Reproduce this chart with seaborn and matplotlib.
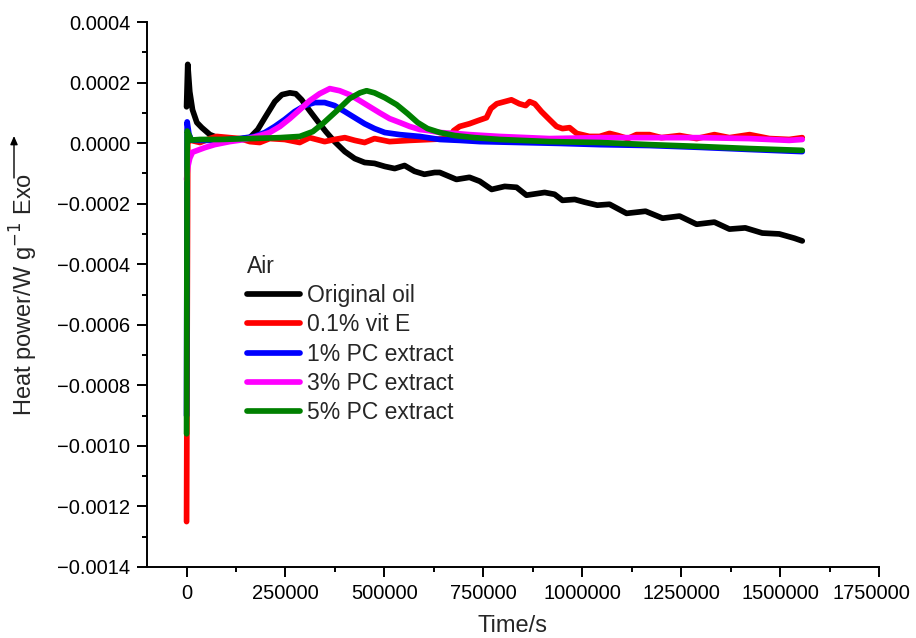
import numpy as np
import pandas as pd
import matplotlib
matplotlib.use("Agg")
import matplotlib.pyplot as plt
from matplotlib.ticker import MultipleLocator, FuncFormatter
from matplotlib.lines import Line2D
from matplotlib.transforms import ScaledTranslation
import seaborn as sns

# ---------------- data ----------------
series_names = ["Original oil", "0.1% vit E", "1% PC extract", "3% PC extract", "5% PC extract"]
series_colors = ["#000000", "#ff0000", "#0000ff", "#ff00ff", "#008000"]

orig_t = [0, 3000, 8000, 15000, 26000, 38600, 59000, 84000, 122000, 160000, 180000, 198000,
          223000, 241000, 261000, 276000, 291000, 311000, 332000, 352000, 374000, 400000,
          425000, 450000, 475000, 501000, 526000, 551000, 576000, 601000, 627000, 640000,
          682000, 715000, 741000, 771000, 804000, 834000, 859000, 905000, 930000, 950000,
          981000, 1006000, 1038000, 1069000, 1112000, 1160000, 1203000, 1246000, 1289000,
          1334000, 1372000, 1412000, 1455000, 1498000, 1536000, 1556000]
orig_v = [0.00012, 0.00026, 0.00017, 0.00011, 0.000068, 0.000051, 0.000028, 0.000015, 0.000012,
          0.000018, 0.000045, 0.000084, 0.000137, 0.00016, 0.000166, 0.000163, 0.000143,
          0.000107, 0.000071, 0.000038, 0.000005, -0.000028, -0.000051, -0.000064, -0.000067,
          -0.000077, -0.000084, -0.000074, -0.000093, -0.000103, -0.000097, -0.000097,
          -0.00012, -0.000113, -0.000126, -0.000153, -0.000143, -0.000146, -0.000172,
          -0.000163, -0.000169, -0.000189, -0.000186, -0.000195, -0.000205, -0.000202,
          -0.000232, -0.000225, -0.000248, -0.000241, -0.000268, -0.000261, -0.000284,
          -0.00028, -0.000297, -0.0003, -0.000314, -0.000323]

vite_t = [0, 3000, 8000, 34000, 59000, 76000, 109000, 135000, 160000, 185000, 210000, 248000,
          286000, 311000, 349000, 374000, 400000, 425000, 450000, 475000, 513000, 564000,
          615000, 665000, 675000, 690000, 715000, 736000, 758000, 769000, 784000, 804000,
          821000, 841000, 857000, 867000, 880000, 897000, 917000, 935000, 950000, 968000,
          986000, 1018000, 1044000, 1069000, 1090000, 1115000, 1137000, 1170000, 1200000,
          1246000, 1289000, 1334000, 1372000, 1423000, 1473000, 1523000, 1556000]
vite_v = [-0.00125, 0.0, 0.00001, 0.000002, 0.000015, 0.000022, 0.000018, 0.000015, 0.000005,
          0.000002, 0.000015, 0.000012, 0.000002, 0.000018, 0.000005, 0.000012, 0.000018,
          0.000009, 0.000002, 0.000015, 0.000005, 0.000009, 0.000012, 0.000015, 0.000041,
          0.000055, 0.000064, 0.000074, 0.000084, 0.000114, 0.00013, 0.000137, 0.000143,
          0.00013, 0.000124, 0.000137, 0.00013, 0.000104, 0.000078, 0.000055, 0.000048,
          0.000051, 0.000032, 0.000022, 0.000022, 0.000032, 0.000025, 0.000015, 0.000028,
          0.000028, 0.000018, 0.000025, 0.000015, 0.000028, 0.000018, 0.000028, 0.000015,
          0.000012, 0.000018]

pc1_t = [0, 1500, 6000, 12000, 34000, 84000, 135000, 172000, 198000, 223000, 248000, 273000,
         299000, 324000, 349000, 374000, 400000, 425000, 450000, 475000, 501000, 539000,
         589000, 640000, 690000, 741000, 842000, 943000, 1044000, 1170000, 1296000, 1422000,
         1556000]
pc1_v = [-0.0009, 0.00007, 0.00003, 0.00001, 0.000009, 0.000009, 0.000015, 0.000022, 0.000035,
         0.000055, 0.000078, 0.000104, 0.000124, 0.000134, 0.000134, 0.000124, 0.000104,
         0.000084, 0.000064, 0.000048, 0.000035, 0.000028, 0.000022, 0.000012, 0.000009,
         0.000005, 0.000002, -0.000001, -0.000005, -0.000008, -0.000014, -0.000021, -0.000028]

pc3_t = [0, 3000, 8000, 15000, 46000, 71000, 109000, 147000, 185000, 210000, 236000, 261000,
         286000, 311000, 336000, 362000, 387000, 412000, 438000, 463000, 488000, 513000,
         539000, 564000, 589000, 614000, 640000, 678000, 715000, 791000, 917000, 1044000,
         1170000, 1296000, 1422000, 1523000, 1556000]
pc3_v = [-0.00012, -0.00008, -0.00005, -0.00003, -0.000015, -0.000005, 0.000005, 0.000012,
         0.000025, 0.000035, 0.000055, 0.000081, 0.00011, 0.00014, 0.000163, 0.00018,
         0.000173, 0.00016, 0.00014, 0.00012, 0.0001, 0.000081, 0.000068, 0.000055, 0.000045,
         0.000041, 0.000035, 0.000032, 0.000028, 0.000022, 0.000015, 0.000018, 0.000018,
         0.000018, 0.000015, 0.000009, 0.000012]

pc5_t = [0, 1500, 5000, 12000, 34000, 84000, 160000, 236000, 286000, 319000, 344000, 380000,
         412000, 438000, 455000, 475000, 501000, 531000, 559000, 584000, 609000, 640000,
         678000, 728000, 791000, 917000, 1044000, 1170000, 1296000, 1422000, 1556000]
pc5_v = [-0.00096, 0.00004, 0.00003, 0.00001, 0.000012, 0.000012, 0.000015, 0.000018, 0.000022,
         0.000038, 0.000064, 0.000107, 0.000147, 0.000166, 0.000173, 0.000166, 0.00015,
         0.000127, 0.000097, 0.000068, 0.000048, 0.000035, 0.000025, 0.000018, 0.000012,
         0.000005, 0.000002, -0.000005, -0.000011, -0.000018, -0.000024]

x_ticks = [0, 250000, 500000, 750000, 1000000, 1250000, 1500000, 1750000]
y_ticks = [-0.0014, -0.0012, -0.0010, -0.0008, -0.0006, -0.0004, -0.0002, 0.0, 0.0002, 0.0004]

# ---------------- build long table ----------------
all_t = [orig_t, vite_t, pc1_t, pc3_t, pc5_t]
all_v = [orig_v, vite_v, pc1_v, pc3_v, pc5_v]
frames = []
for name, t, v in zip(series_names, all_t, all_v):
    frames.append(pd.DataFrame({"Time": t, "Power": v, "Sample": name}))
df = pd.concat(frames, ignore_index=True)

# ---------------- plot ----------------
sns.set_style("ticks")
plt.rcParams["font.family"] = ["Liberation Sans", "DejaVu Sans"]
plt.rcParams["axes.unicode_minus"] = True

W, H = 916, 638
fig = plt.figure(figsize=(W / 100, H / 100), dpi=100)
ax = fig.add_axes([147 / W, 1 - 567 / H, (879 - 147) / W, (567 - 22) / H])

LW = 4.1
sns.lineplot(data=df, x="Time", y="Power", hue="Sample", hue_order=series_names,
             palette=dict(zip(series_names, series_colors)), estimator=None, sort=False,
             linewidth=LW, ax=ax, legend=False)
for ln in ax.get_lines():
    ln.set_solid_capstyle("round")
    ln.set_solid_joinstyle("round")

ax.set_xlim(-100000, 1750000)
ax.set_ylim(-0.0014, 0.0004)
ax.set_xticks(x_ticks)
ax.set_yticks(y_ticks)
ax.xaxis.set_minor_locator(MultipleLocator(125000))
ax.yaxis.set_minor_locator(MultipleLocator(0.0001))
ax.xaxis.set_major_formatter(FuncFormatter(lambda v, p: f"{int(round(v))}"))
ax.yaxis.set_major_formatter(FuncFormatter(lambda v, p: f"{v:.4f}".replace("-", "\u2212")
                                           if abs(v) > 1e-12 else "0.0000"))
ax.tick_params(which="major", direction="out", length=7, width=1.4, labelsize=14.5,
               color="black", labelcolor="black", pad=5)
ax.tick_params(which="minor", direction="out", length=3.5, width=1.4, color="black")
for s in ["top", "right"]:
    ax.spines[s].set_visible(False)
for s in ["left", "bottom"]:
    ax.spines[s].set_linewidth(1.4)
    ax.spines[s].set_color("black")

# keep the last x tick label inside the figure, as in the reference
last_lbl = ax.get_xticklabels()[-1]
last_lbl.set_transform(last_lbl.get_transform() + ScaledTranslation(-8 / 100, 0, fig.dpi_scale_trans))

ax.set_xlabel("Time/s", fontsize=17)
ax.set_ylabel("Heat power/W g$^{\u22121}$ Exo", fontsize=17)
ax.xaxis.set_label_coords(0.5, -0.088)
ax.yaxis.set_label_coords(-0.146, 0.5)

# Exo arrow above the y-axis label
fig.add_artist(matplotlib.patches.FancyArrowPatch(
    (14 / W, 1 - 178 / H), (14 / W, 1 - 136 / H), transform=fig.transFigure,
    arrowstyle="-|>,head_length=5,head_width=2.2", lw=1.0, color="black",
    shrinkA=0, shrinkB=0))

# legend
handles = [Line2D([0], [0], color=c, lw=LW, solid_capstyle="round") for c in series_colors]
leg = ax.legend(handles, series_names, title="Air", loc="upper left",
                bbox_to_anchor=(247 / W, 1 - 255 / H), bbox_transform=fig.transFigure,
                frameon=False, fontsize=16.5, title_fontsize=16.5, handlelength=2.3,
                handletextpad=0.3, labelspacing=0.27, borderpad=0, borderaxespad=0,
                alignment="left")

fig.savefig("out.png", dpi=100)
